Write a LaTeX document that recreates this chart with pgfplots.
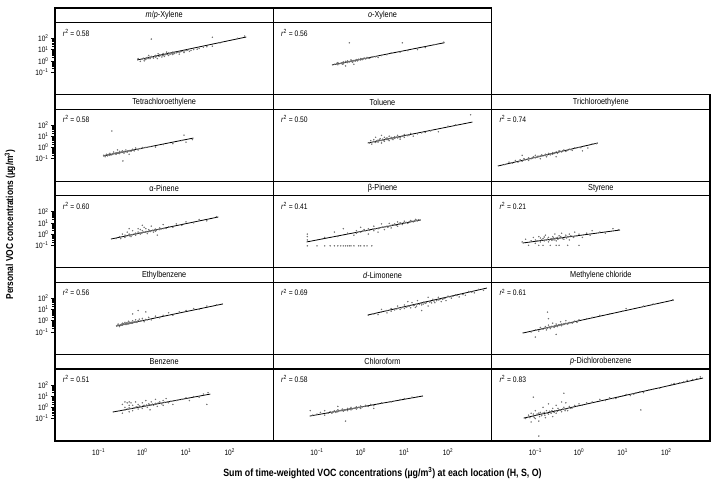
\documentclass[border=0pt]{standalone}
\usepackage{fontspec}
\setmainfont{Liberation Sans}[FakeStretch=0.84]
\usepackage{pgfplots}
\pgfplotsset{compat=1.18}
\usepgfplotslibrary{groupplots}
\usetikzlibrary{calc}

\pgfplotsset{
  panel/.style={
    width=218.3pt, height=72pt, scale only axis,
    xmode=log, ymode=log, xmin=1e-2, xmax=1e3, ymin=1e-3, ymax=2512,
    xtick={0.1,1,10,100}, ytick={0.1,1,10,100},
    xticklabels={10\textsuperscript{−1},10\textsuperscript{0},10\textsuperscript{1},10\textsuperscript{2}},
    yticklabels={10\textsuperscript{−1},10\textsuperscript{0},10\textsuperscript{1},10\textsuperscript{2}},
    axis line style={line width=1.2pt},
    tick align=outside, major tick length=4pt, ytick pos=left, xtick pos=bottom,
    xtick style={draw=none}, ytick style={draw=none},
    ticklabel style={font=\fontsize{7.8}{8}\selectfont},
    yticklabel style={xshift=1pt},
    clip=false,
  },
  leftcol/.style={ytick style={draw=black, line width=0.5pt}},
  dots/.style={only marks, mark=*, mark size=0.5pt, black!55},
  fit/.style={black, line width=0.8pt, no marks},
}
% title strip above each panel and the r^2 note inside it
\newcommand\strip[1]{\node[draw, line width=1.2pt, anchor=south, outer sep=0pt, inner sep=0pt,
  minimum width=218.3pt, minimum height=14.6pt, font=\fontsize{8.7}{9}\selectfont]
  at (rel axis cs:0.5,1) {#1};}
\newcommand\rsq[1]{\node[anchor=west, font=\fontsize{8}{9}\selectfont, inner sep=0pt]
  at (rel axis cs:0.035,0.86) {\textit{r}\textsuperscript{2} = #1};}

\begin{document}
\begin{tikzpicture}
\begin{groupplot}[
  group style={group name=G, group size=3 by 5, horizontal sep=0pt, vertical sep=14.6pt,
    xticklabels at=edge bottom, yticklabels at=edge left},
  panel]

% row 1
\nextgroupplot[leftcol]
\addplot[dots] coordinates {(1,1.5) (1.2,1.3) (1.3,2) (1.5,1.6) (1.6,2.5) (1.8,1.8) (2,2.2) (2,3) (2.2,1.6) (2.5,2.8) (2.5,3.5) (2.8,2.2) (3,3.2) (3,4.5) (3.2,2.5) (3.5,3.8) (4,3) (4,5) (4.5,4) (5,3.6) (5,6) (5.5,4.5) (6,5.2) (7,6) (7,4) (8,7) (9,5.5) (10,8) (12,7) (0.9,0.9) (1.1,1) (0.8,1.6) (1.4,3) (2.3,4.2) (3.6,6) (15,10) (20,13) (25,16) (40,20) (60,40) (1.6,87) (40,125) (150,100) (220,160)
 (1.05,1.7) (1.15,1.4) (1.25,1.9) (1.35,1.6) (1.45,2.1) (1.55,1.9) (1.7,2.3) (1.9,2.6) (2.1,2.4) (2.4,2.5) (2.6,3.1) (2.9,2.9) (3.3,3.4) (3.8,3.6) (4.2,4.2) (4.8,4.6) (5.2,5) (6.5,5.8) (7.5,6.5) (9,7.5) (11,9) (13,8.5) (18,11) (30,18)};
\addplot[fit] coordinates {(0.76,1.2) (240,132)};
\strip{\textit{m}/\textit{p}-Xylene}
\rsq{0.58}

\nextgroupplot
\addplot[dots] coordinates {(0.25,0.5) (0.3,0.45) (0.3,0.7) (0.35,0.6) (0.4,0.8) (0.4,0.55) (0.45,0.9) (0.5,0.7) (0.5,1) (0.55,0.8) (0.6,0.9) (0.6,1.2) (0.65,0.75) (0.7,1.1) (0.75,0.95) (0.8,1.3) (0.85,1) (0.9,1.4) (1,1.2) (1,1.6) (1.1,1.3) (1.2,1.8) (1.3,1.5) (1.4,2) (1.6,1.7) (2,2.4) (2.5,2) (3,3) (4,3.5) (5,5) (8,6) (12,8) (20,10) (30,15) (50,28) (80,45) (0.55,40) (9,40) (0.45,0.35) (0.7,0.5)
 (0.32,0.55) (0.37,0.65) (0.42,0.7) (0.47,0.75) (0.52,0.85) (0.57,0.9) (0.62,1) (0.67,0.95) (0.72,1.05) (0.78,1.15) (0.82,1.1) (0.88,1.25) (0.95,1.3) (1.05,1.45) (1.15,1.5) (1.25,1.6) (1.5,1.8) (1.8,2.1) (2.2,2.3) (0.28,0.6) (0.38,0.5)};
\addplot[fit] coordinates {(0.22,0.43) (83,41)};
\strip{\textit{o}-Xylene}
\rsq{0.56}

\nextgroupplot[group/empty plot]

% row 2
\nextgroupplot[leftcol]
\addplot[dots] coordinates {(0.13,0.2) (0.14,0.15) (0.15,0.25) (0.16,0.18) (0.18,0.3) (0.18,0.2) (0.2,0.22) (0.22,0.3) (0.22,0.4) (0.25,0.25) (0.25,0.35) (0.28,0.3) (0.3,0.45) (0.3,0.28) (0.32,0.35) (0.35,0.5) (0.38,0.32) (0.4,0.4) (0.42,0.6) (0.45,0.38) (0.5,0.5) (0.55,0.45) (0.6,0.7) (0.65,0.5) (0.7,0.9) (0.8,0.6) (0.9,0.8) (1,1) (1.5,1.2) (2,1.1) (3,1.8) (5,2.2) (8,4) (10,3) (14,5) (0.2,29) (0.36,0.063) (9,12.6) (0.27,0.6) (0.5,0.25)
 (0.14,0.2) (0.16,0.22) (0.17,0.24) (0.19,0.26) (0.21,0.28) (0.23,0.3) (0.24,0.27) (0.26,0.32) (0.27,0.35) (0.29,0.33) (0.31,0.38) (0.33,0.4) (0.34,0.36) (0.37,0.42) (0.39,0.45) (0.43,0.44) (0.47,0.5) (0.52,0.55) (0.58,0.58) (0.62,0.55) (0.75,0.7) (1.2,1)};
\addplot[fit] coordinates {(0.126,0.174) (14.8,6.9)};
\strip{Tetrachloroethylene}
\rsq{0.58}

\nextgroupplot
\addplot[dots] coordinates {(1.6,2.5) (1.7,4) (1.8,2) (2,3.5) (2,5) (2.2,2.8) (2.5,4.5) (2.5,3) (2.8,6) (3,4) (3,2.5) (3.2,5.5) (3.5,8) (3.5,3.5) (4,5) (4,7) (4.5,4) (4.5,10) (5,6) (5,8) (5.5,5) (6,9) (6,6.5) (7,7) (7,12) (8,8) (8,5.5) (9,10) (10,14) (10,8) (12,11) (14,18) (16,10) (20,16) (25,20) (30,22) (40,30) (60,25) (100,80) (150,100) (330,800) (3,12) (2.2,8)
 (2.1,3.2) (2.3,3.8) (2.6,3.9) (2.7,4.8) (2.9,4.2) (3.3,4.8) (3.4,4) (3.7,5.2) (3.8,6.2) (4.2,5.8) (4.3,4.8) (4.7,6.3) (5.2,7) (5.3,5.8) (5.8,7.2) (6.3,7.5) (6.5,8.2) (7.5,8.5) (8.5,9.5) (9.5,11) (11,12) (13,13)};
\addplot[fit] coordinates {(1.45,2.5) (363,182)};
\strip{Toluene}
\rsq{0.50}

\nextgroupplot
\addplot[dots] coordinates {(0.02,0.03) (0.025,0.05) (0.03,0.04) (0.035,0.07) (0.04,0.05) (0.045,0.08) (0.05,0.06) (0.055,0.1) (0.06,0.08) (0.07,0.12) (0.07,0.07) (0.08,0.1) (0.09,0.15) (0.1,0.12) (0.1,0.2) (0.12,0.15) (0.13,0.1) (0.14,0.22) (0.15,0.18) (0.17,0.25) (0.18,0.15) (0.2,0.3) (0.22,0.22) (0.25,0.35) (0.25,0.25) (0.3,0.4) (0.32,0.3) (0.35,0.5) (0.4,0.4) (0.45,0.6) (0.5,0.45) (0.6,0.7) (0.7,0.55) (0.8,0.9) (1,1) (1.3,1.3) (1.6,0.9) (2,2) (2.5,2.2) (0.05,0.2) (0.3,0.15) (1.2,0.5)
 (0.065,0.09) (0.075,0.1) (0.085,0.12) (0.095,0.13) (0.11,0.14) (0.115,0.17) (0.125,0.16) (0.135,0.18) (0.16,0.2) (0.19,0.22) (0.21,0.26) (0.23,0.28) (0.27,0.3) (0.28,0.33) (0.34,0.38) (0.38,0.45) (0.42,0.5) (0.55,0.55) (0.65,0.65) (1.1,0.95)};
\addplot[fit] coordinates {(0.0138,0.0224) (2.7,2.5)};
\strip{Trichloroethylene}
\rsq{0.74}

% row 3
\nextgroupplot[leftcol]
\addplot[dots] coordinates {(0.25,0.4) (0.3,0.6) (0.32,0.4) (0.35,1) (0.4,0.5) (0.4,0.8) (0.45,1.5) (0.5,0.7) (0.5,1) (0.55,0.6) (0.6,2) (0.6,0.9) (0.7,1.2) (0.7,0.8) (0.8,1.5) (0.8,3) (0.9,1) (1,1.3) (1,2) (1.1,4) (1.2,1.6) (1.3,1.1) (1.4,2.5) (1.5,1.8) (1.6,5) (1.7,2.2) (1.8,1.5) (2,2.8) (2,1.8) (2.2,0.8) (2.5,3.5) (2.5,2.5) (3,3) (3,7) (4,4.5) (5,4) (6,8) (8,6) (10,12) (15,10) (20,20) (30,15) (50,35) (0.5,3) (1,6)
 (0.42,0.7) (0.48,0.8) (0.52,0.9) (0.58,0.85) (0.65,1) (0.75,1.1) (0.85,1.2) (0.95,1.25) (1.05,1.5) (1.15,1.4) (1.25,1.7) (1.35,1.6) (1.45,2) (1.55,1.7) (1.75,2) (1.9,2.3) (2.1,2.2) (2.3,2.6) (2.7,2.9) (3.5,3.2) (0.9,2.5) (1.2,3)};
\addplot[fit] coordinates {(0.19,0.36) (55,33)};
\strip{α-Pinene}
\rsq{0.60}

\nextgroupplot
\addplot[dots] coordinates {(0.06,0.3) (0.06,0.6) (0.06,0.09) (0.06,1) (0.1,0.09) (0.15,0.5) (0.2,0.09) (0.25,1.5) (0.3,0.09) (0.3,0.6) (0.4,0.09) (0.4,3) (0.5,0.09) (0.5,1.2) (0.6,0.09) (0.7,0.8) (0.7,0.09) (0.8,2) (0.9,0.09) (1,1.5) (1,4) (1.2,0.09) (1.2,2.5) (1.5,1) (1.5,3) (1.8,0.09) (2,2) (2,5) (2.5,3) (2.5,1.5) (3,4) (3,8) (3.5,2.5) (4,5) (4.5,9) (5,3.5) (5,6) (6,8) (7,5) (7,12) (8,10) (9,7) (10,14) (12,9) (14,16) (16,12) (18,20) (20,15) (23,18) (0.15,0.09) (0.25,0.09)
 (0.8,1.2) (1.1,1.8) (1.3,2) (1.6,2.2) (1.9,2.8) (2.2,3) (2.7,3.5) (3.2,4.2) (3.8,4.5) (4.2,4) (4.8,5.5) (5.5,6.5) (6.5,6) (7.5,8) (8.5,9) (9.5,10) (11,11) (13,13) (15,14) (17,15) (19,17) (21,19) (0.35,0.09) (0.45,0.09) (0.55,0.09) (1,0.09) (1.4,0.09)};
\addplot[fit] coordinates {(0.058,0.2) (23.4,17.8)};
\strip{β-Pinene}
\rsq{0.41}

\nextgroupplot
\addplot[dots] coordinates {(0.05,0.2) (0.06,0.35) (0.07,0.1) (0.08,0.25) (0.09,0.5) (0.1,0.15) (0.1,0.3) (0.12,0.6) (0.13,0.2) (0.15,0.4) (0.15,0.1) (0.17,0.8) (0.18,0.3) (0.2,0.5) (0.2,0.2) (0.22,0.1) (0.25,0.6) (0.25,0.35) (0.28,1) (0.3,0.45) (0.3,0.25) (0.35,0.7) (0.35,0.1) (0.4,0.5) (0.4,1.2) (0.45,0.35) (0.5,0.8) (0.5,0.5) (0.6,1) (0.6,0.3) (0.7,0.6) (0.8,1.5) (0.9,0.7) (1,0.1) (1,1) (1.2,0.5) (1.5,1.2) (1.8,0.8) (2,2) (3,1.5) (4,1.2) (6,3) (8,2.5) (0.12,0.1) (0.3,0.1) (0.55,0.1)
 (0.11,0.25) (0.14,0.3) (0.16,0.25) (0.19,0.35) (0.21,0.3) (0.23,0.4) (0.24,0.28) (0.26,0.45) (0.27,0.3) (0.29,0.4) (0.32,0.5) (0.33,0.35) (0.37,0.45) (0.38,0.6) (0.42,0.4) (0.48,0.55) (0.52,0.45) (0.55,0.6) (0.65,0.7) (0.75,0.5) (0.16,0.55) (0.13,0.45)};
\addplot[fit] coordinates {(0.051,0.16) (8.7,2.3)};
\strip{Styrene}
\rsq{0.21}

% row 4
\nextgroupplot[leftcol]
\addplot[dots] coordinates {(0.26,0.35) (0.28,0.5) (0.3,0.3) (0.32,0.45) (0.35,0.6) (0.35,0.4) (0.38,0.5) (0.4,0.7) (0.42,0.45) (0.45,0.6) (0.48,0.9) (0.5,0.55) (0.5,0.75) (0.55,0.7) (0.6,1) (0.6,0.6) (0.65,0.8) (0.7,1.2) (0.75,0.7) (0.8,1) (0.85,1.4) (0.9,0.9) (1,1.1) (1,1.6) (1.1,0.8) (1.2,1.3) (1.4,2) (1.6,1.2) (2,2.5) (2.5,1.8) (3,3) (4,5) (5,3) (7,6) (10,8) (15,12) (20,10) (30,20) (50,25) (68,30) (0.8,8) (0.6,4) (1.2,6)
 (0.27,0.4) (0.29,0.38) (0.31,0.42) (0.33,0.4) (0.34,0.5) (0.36,0.45) (0.37,0.55) (0.39,0.48) (0.41,0.55) (0.43,0.52) (0.44,0.65) (0.46,0.55) (0.47,0.5) (0.49,0.62) (0.52,0.6) (0.54,0.65) (0.57,0.6) (0.58,0.75) (0.62,0.7) (0.68,0.75) (0.72,0.8) (0.78,0.85) (0.95,1) (1.3,1.2)};
\addplot[fit] coordinates {(0.25,0.33) (68,30)};
\strip{Ethylbenzene}
\rsq{0.56}

\nextgroupplot
\addplot[dots] coordinates {(1.5,3) (2,4) (2.5,3.5) (3,6) (3,10) (4,5) (4,8) (5,12) (5,7) (6,9) (7,20) (7,12) (8,10) (9,15) (10,25) (10,12) (12,18) (14,14) (15,40) (16,22) (18,15) (20,30) (20,60) (25,25) (28,45) (30,35) (35,20) (40,50) (45,80) (50,40) (60,70) (60,120) (70,50) (80,90) (90,60) (100,150) (120,100) (150,200) (180,130) (200,250) (250,180) (300,400) (400,300) (500,600) (650,500) (12,50) (25,8) (35,120)
 (6.5,11) (8.5,14) (11,16) (13,20) (17,24) (19,20) (22,28) (24,35) (27,30) (32,40) (38,45) (42,38) (48,55) (55,60) (65,75) (75,80) (85,100) (110,130) (130,150) (160,170) (220,210) (350,350)};
\addplot[fit] coordinates {(1.45,3.2) (776,794)};
\strip{\textit{d}-Limonene}
\rsq{0.69}

\nextgroupplot
\addplot[dots] coordinates {(0.08,0.1) (0.1,0.15) (0.12,0.12) (0.13,0.25) (0.15,0.18) (0.17,0.3) (0.18,0.15) (0.2,0.25) (0.2,0.4) (0.22,0.2) (0.25,0.3) (0.25,0.6) (0.27,0.25) (0.3,0.35) (0.3,0.5) (0.32,0.3) (0.35,0.4) (0.38,0.8) (0.4,0.35) (0.4,0.5) (0.45,0.45) (0.5,0.6) (0.5,1) (0.55,0.5) (0.6,0.7) (0.7,0.6) (0.8,0.9) (0.9,0.7) (1,1.2) (1.5,1.5) (2,2) (3,3) (5,4) (10,7) (12,12) (30,20) (50,30) (140,70) (0.19,5.8) (0.1,0.035) (0.2,1.5) (0.3,0.06)
 (0.14,0.2) (0.16,0.22) (0.19,0.22) (0.21,0.27) (0.23,0.28) (0.24,0.32) (0.26,0.3) (0.28,0.35) (0.29,0.32) (0.31,0.38) (0.33,0.36) (0.34,0.42) (0.36,0.38) (0.37,0.45) (0.39,0.42) (0.42,0.45) (0.44,0.5) (0.47,0.5) (0.52,0.55) (0.58,0.6) (0.65,0.65) (0.75,0.75)};
\addplot[fit] coordinates {(0.051,0.079) (148,69)};
\strip{Methylene chloride}
\rsq{0.61}

% row 5
\nextgroupplot[leftcol]
\addplot[dots] coordinates {(0.3,0.5) (0.35,0.3) (0.4,1) (0.4,0.6) (0.45,2.5) (0.5,0.4) (0.5,0.9) (0.55,2.5) (0.6,1.5) (0.6,0.5) (0.7,1) (0.7,3) (0.8,0.7) (0.8,1.8) (0.9,1.2) (1,2.5) (1,0.8) (1.1,1.5) (1.2,4) (1.3,1) (1.4,2) (1.5,0.6) (1.6,3) (1.8,1.5) (2,2.2) (2,5) (2.2,1.2) (2.5,3) (2.8,2) (3,4) (3,1.5) (3.5,6) (4,2.5) (4.5,3.5) (5,1.8) (6,4) (8,5) (10,7) (12,4) (15,9) (20,8) (25,15) (30,1.8) (32,20) (0.5,3) (0.4,3)
 (0.45,0.7) (0.55,0.8) (0.65,0.9) (0.75,1.1) (0.85,1.3) (0.95,1.1) (1.05,1.4) (1.15,1.2) (1.25,1.6) (1.35,1.4) (1.45,1.8) (1.55,1.5) (1.7,1.9) (1.9,1.8) (2.1,2) (2.3,2.4) (2.6,2.3) (3.2,2.8) (3.8,3) (0.35,1.8) (0.5,1.5)};
\addplot[fit] coordinates {(0.21,0.38) (36,15)};
\strip{Benzene}
\rsq{0.51}

\nextgroupplot
\addplot[dots] coordinates {(0.07,0.5) (0.08,0.2) (0.1,0.25) (0.12,0.35) (0.15,0.2) (0.15,0.5) (0.18,0.3) (0.2,0.4) (0.22,0.3) (0.25,0.5) (0.27,0.35) (0.3,0.6) (0.3,0.4) (0.35,0.5) (0.38,0.7) (0.4,0.45) (0.45,0.6) (0.5,0.8) (0.5,0.5) (0.55,0.7) (0.6,1) (0.6,0.6) (0.7,0.8) (0.8,1.1) (0.8,0.7) (0.9,1) (1,1.3) (1,0.8) (1.1,1.1) (1.3,1.5) (1.5,1.2) (1.7,1.8) (2,1.4) (2,0.8) (2.5,2) (3,2.5) (5,3) (8,5) (10,6) (15,8) (20,9) (26,10) (0.45,0.06) (0.3,1.2)
 (0.21,0.35) (0.23,0.38) (0.24,0.4) (0.26,0.42) (0.28,0.45) (0.29,0.42) (0.31,0.48) (0.33,0.5) (0.36,0.55) (0.37,0.5) (0.42,0.58) (0.43,0.55) (0.47,0.62) (0.52,0.65) (0.57,0.7) (0.62,0.75) (0.65,0.72) (0.75,0.85) (0.85,0.9) (0.95,0.95) (1.2,1.2) (1.4,1.3)};
\addplot[fit] coordinates {(0.068,0.166) (26,10)};
\strip{Chloroform}
\rsq{0.58}

\nextgroupplot
\addplot[dots] coordinates {(0.06,0.1) (0.07,0.2) (0.08,0.05) (0.08,0.3) (0.09,0.15) (0.1,0.5) (0.1,0.1) (0.11,0.25) (0.12,0.06) (0.13,0.35) (0.14,0.18) (0.15,1) (0.15,0.3) (0.17,0.12) (0.18,0.5) (0.2,0.25) (0.2,2) (0.22,0.4) (0.25,0.8) (0.25,0.15) (0.28,0.5) (0.3,1.5) (0.3,0.3) (0.35,0.6) (0.4,3) (0.4,0.4) (0.45,1) (0.5,0.7) (0.5,2.5) (0.55,0.5) (0.6,1.2) (0.7,0.9) (0.8,1.5) (1,2) (1.2,1.5) (1.5,2.5) (2,3) (3,5) (4,4) (5,7) (7,6) (10,10) (12,14) (15,11) (20,18) (25,25) (26,0.58) (30,20) (50,40) (70,50) (100,70) (130,110) (200,150) (250,180) (300,250) (400,300) (500,350) (600,500) (0.12,0.0028) (0.09,8) (0.45,18)
 (0.075,0.12) (0.09,0.25) (0.095,0.12) (0.105,0.2) (0.12,0.3) (0.125,0.15) (0.135,0.25) (0.16,0.35) (0.165,0.2) (0.19,0.3) (0.21,0.45) (0.23,0.3) (0.24,0.5) (0.27,0.35) (0.32,0.45) (0.33,0.8) (0.38,0.55) (0.42,0.7) (0.48,0.5) (0.65,0.8) (0.9,1.2) (6,6) (8,8) (18,15) (40,35) (150,130)};
\addplot[fit] coordinates {(0.054,0.11) (692,400)};
\strip{\textit{p}-Dichlorobenzene}
\rsq{0.83}
\end{groupplot}

\node[font=\bfseries\fontsize{10.5}{11}\selectfont]
  at ($(G c1r5.south west)!0.5!(G c3r5.south east)+(0,-32pt)$)
  {Sum of time-weighted VOC concentrations (µg/m\textsuperscript{3}) at each location (H, S, O)};
\node[rotate=90, font=\bfseries\fontsize{10}{11}\selectfont]
  at ($(G c1r5.south west)!0.5!(G c1r1.north west)+(-45pt,7.3pt)$)
  {Personal VOC concentrations (µg/m\textsuperscript{3})};

\coordinate (TR) at (G c3r5.south east |- G c1r1.north west);
\path ($(G c1r5.south west)+(-55pt,-42pt)$) rectangle ($(TR)+(3pt,22.6pt)$);
\end{tikzpicture}
\end{document}
